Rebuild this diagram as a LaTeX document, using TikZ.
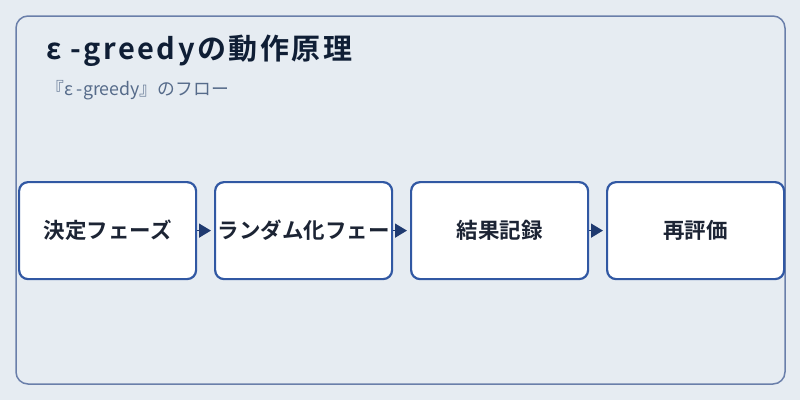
\documentclass[tikz,border=0pt]{standalone}
\usepackage{fontspec}
\setmainfont{Noto Sans CJK JP}[BoldFont={Noto Sans CJK JP Bold}]
\usetikzlibrary{arrows.meta}
\definecolor{bg}{HTML}{E6ECF2}
\definecolor{frame}{HTML}{6A7FAA}
\definecolor{boxline}{HTML}{3158A3}
\definecolor{arrowc}{HTML}{1F3A70}
\definecolor{titlec}{HTML}{0F1E35}
\definecolor{subc}{HTML}{566B8A}
\definecolor{textc}{HTML}{1C2434}
\tikzset{
  stepbox/.style={draw=boxline, line width=2.2pt, fill=white, rounded corners=9pt,
    minimum width=177pt, minimum height=97pt, inner sep=0pt, anchor=north west,
    font=\fontsize{21.5}{24}\selectfont\bfseries, text=textc},
  flowarrow/.style={draw=arrowc, line width=1.5pt, -{Triangle[length=12pt,width=14pt]}, shorten >=3pt},
}
\begin{document}
\begin{tikzpicture}[x=1pt,y=-1pt]
\useasboundingbox (0,0) rectangle (800,400);
\fill[bg] (0,0) rectangle (800,400);
\draw[frame, line width=1.5pt, rounded corners=12pt] (16,16) rectangle (785,384);
\node[anchor=base west, font=\fontsize{29}{32}\selectfont\bfseries\addfontfeatures{LetterSpace=8.5}, text=titlec, inner sep=0pt] (title) at (46,59) {ε -greedyの動作原理};
\node[anchor=base west, font=\fontsize{17.8}{20}\selectfont, text=subc, inner sep=0pt] (sub) at (46,95) {『ε -greedy』のフロー};
\node[stepbox] (b1) at (18,181) {決定フェーズ};
\node[stepbox] (b2) at (214,181) {ランダム化フェー};
\node[stepbox] (b3) at (410,181) {結果記録};
\node[stepbox] (b4) at (606,181) {再評価};
\draw[flowarrow] (b1.east) -- (b2.west);
\draw[flowarrow] (b2.east) -- (b3.west);
\draw[flowarrow] (b3.east) -- (b4.west);
\end{tikzpicture}
\end{document}
